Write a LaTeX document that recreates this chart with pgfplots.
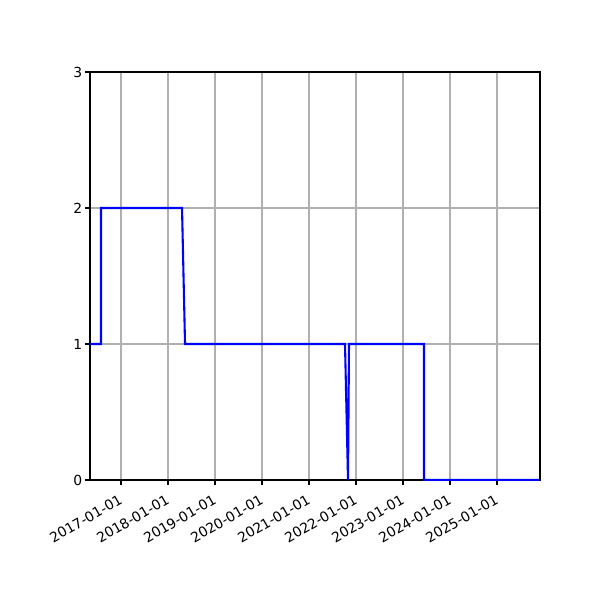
\documentclass[border=0pt]{standalone}
\usepackage{fontspec}
\setmainfont{DejaVu Sans}
\usepackage{pgfplots}
\pgfplotsset{compat=1.18}
\begin{document}
\begin{tikzpicture}
  % page = 600x600 px at 0.72pt per px, axis box at (90,72)-(540,480) px
  \useasboundingbox (-64.8pt,-86.4pt) rectangle (367.2pt,345.6pt);
  \begin{axis}[
    scale only axis,
    width=324pt,
    height=293.76pt,
    xmin=2016.34, xmax=2025.915,
    ymin=0, ymax=3,
    xtick={2017,2018,2019,2020,2021,2022,2023,2024,2025},
    xticklabels={2017-01-01,2018-01-01,2019-01-01,2020-01-01,2021-01-01,2022-01-01,2023-01-01,2024-01-01,2025-01-01},
    ytick={0,1,2,3},
    xtick pos=bottom, ytick pos=left,
    tick align=outside,
    major tick length=3.5pt,
    every tick/.style={black, line width=0.8pt},
    axis line style={line width=0.8pt},
    grid=major,
    major grid style={color=black!31, line width=0.8pt},
    x tick label style={xshift=-1.7pt, yshift=-5pt, rotate=30, anchor=north east, inner sep=1pt},
    y tick label style={inner sep=2pt},
    /pgf/number format/assume math mode=true,
    tick label style={font=\fontsize{10}{12}\selectfont},
  ]
    \addplot[blue, line width=1.5pt, line join=miter] coordinates {
      (2016.34,1)
      (2016.574,1)
      (2016.574,2)
      (2018.298,2)
      (2018.362,1)
      (2021.766,1)
      (2021.83,0)
      (2021.851,1)
      (2023.447,1)
      (2023.447,0)
      (2025.915,0)
    };
  \end{axis}
\end{tikzpicture}
\end{document}
